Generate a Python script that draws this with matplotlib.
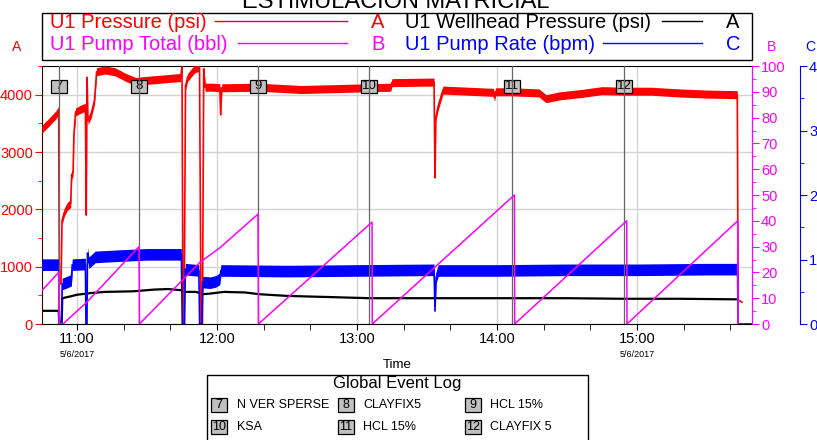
import matplotlib.pyplot as plt
from matplotlib.lines import Line2D
from matplotlib.patches import Rectangle
from matplotlib.ticker import MultipleLocator, FixedLocator
import matplotlib.transforms as mtrans
import numpy as np

plt.rcParams['font.family'] = ['Liberation Sans', 'DejaVu Sans']

# time in decimal hours (5/6/2017)
press_t = [10.75, 10.80, 10.85, 10.869, 10.874, 10.886, 10.893, 10.91, 10.93, 10.955,
           10.962, 10.972, 10.978, 10.99, 11.03, 11.060, 11.066, 11.072, 11.078, 11.10,
           11.125, 11.14, 11.20, 11.27, 11.35, 11.42, 11.50, 11.60, 11.74, 11.75,
           11.757, 11.765, 11.775, 11.79, 11.84, 11.875, 11.886, 11.896, 11.905, 11.915,
           11.97, 12.02, 12.026, 12.034, 12.3, 12.6, 13.24, 13.25, 13.55, 13.557,
           13.563, 13.58, 13.614, 13.975, 13.982, 13.99, 14.10, 14.30, 14.35, 14.45,
           14.60, 14.75, 14.9, 15.10, 15.30, 15.50, 15.716, 15.722, 15.75]
press_v = [3400, 3520, 3650, 3730, 700, 700, 1800, 1950, 2050, 2100,
           2600, 2650, 3300, 3700, 3750, 3780, 1900, 4300, 3550, 3650,
           3900, 4400, 4430, 4400, 4300, 4230, 4250, 4270, 4300, 4480,
           0, 0, 4150, 4300, 4450, 4480, 0, 0, 4450, 4130,
           4130, 4120, 3650, 4120, 4130, 4090, 4130, 4210, 4220, 2550,
           3600, 3800, 4080, 4040, 3950, 4050, 4050, 4030, 3930, 3980,
           4020, 4070, 4060, 4060, 4030, 4010, 4000, 420, 380]

whp_t = [10.75, 10.869, 10.874, 10.89, 10.895, 10.95, 11.0, 11.1, 11.2, 11.4, 11.55,
         11.65, 11.74, 11.77, 11.85, 11.9, 11.95, 12.05, 12.2, 12.3, 12.5, 12.8, 13.09,
         13.5, 14.5, 14.9, 15.3, 15.72]
whp_v = [230, 230, 0, 0, 450, 480, 510, 540, 560, 570, 600,
         610, 590, 560, 560, 520, 530, 560, 550, 520, 490, 470, 450,
         450, 450, 440, 440, 430]

total_t = [10.75, 10.869, 10.872, 10.90, 10.95, 11.0, 11.071, 11.443, 11.446, 11.88,
           12.02, 12.293, 12.296, 13.107, 13.109, 14.124, 14.126, 14.926, 14.928,
           15.719, 15.721]
total_v = [13, 20, 0, 0, 2.5, 5, 8.5, 30, 0, 24,
           29.5, 42.6, 0, 39.5, 0, 50, 0, 40, 0,
           40, 0]

rate_t = [10.75, 10.869, 10.873, 10.89, 10.894, 10.93, 10.96, 10.966, 11.06, 11.064,
          11.071, 11.075, 11.085, 11.13, 11.30, 11.50, 11.745, 11.752, 11.768, 11.774,
          11.87, 11.876, 11.893, 11.898, 11.95, 11.99, 12.02, 12.028, 12.5, 13.0,
          13.55, 13.557, 13.565, 13.58, 14.0, 14.5, 15.0, 15.5, 15.718, 15.721, 15.821]
rate_v = [0.92, 0.92, 0, 0, 0.62, 0.65, 0.68, 0.92, 0.93, 0,
          0, 1.1, 0.95, 1.04, 1.06, 1.08, 1.08, 0, 0, 0.85,
          0.83, 0, 0, 0.65, 0.64, 0.66, 0.70, 0.83, 0.82, 0.83,
          0.84, 0.2, 0.72, 0.83, 0.83, 0.84, 0.84, 0.85, 0.85, 0, 0]

event_ids = [7, 8, 9, 10, 11, 12]
event_t = [10.871, 11.443, 12.293, 13.086, 14.107, 14.907]
event_names = ['N VER SPERSE', 'CLAYFIX5', 'HCL 15%', 'KSA', 'HCL 15%', 'CLAYFIX 5']

hour_ticks = [11, 12, 13, 14, 15]
hour_labels = ['11:00', '12:00', '13:00', '14:00', '15:00']

RED = '#ff0000'
MAG = '#ff00ff'
BLUE = '#0000ff'

W, H = 817, 440
fig = plt.figure(figsize=(W / 100, H / 100), dpi=100)
ax = fig.add_axes([42 / W, 116 / H, 710 / W, 258 / H])
ax_b = ax.twinx()
ax_c = ax.twinx()
ax.set_zorder(1)
ax_c.set_zorder(2)
ax_b.set_zorder(3)
ax_b.patch.set_visible(False)
ax_c.patch.set_visible(False)

# --- A axis: pressures
ax.set_xlim(10.75, 15.821)
ax.set_ylim(0, 4500)
ax.grid(True, which='major', color='#d4d4d4', lw=1)
ax.set_axisbelow(True)

pt = np.array(press_t)
pv = np.array(press_v, dtype=float)
spread = np.where(pv > 1000, 70, 0)
ax.fill_between(pt, pv - spread, pv + spread, color=RED, lw=0, zorder=3)
ax.plot(pt, pv, color=RED, lw=1.2, zorder=3)
ax.plot(whp_t, whp_v, color='black', lw=1.6, zorder=2)

ax.set_yticks([0, 1000, 2000, 3000, 4000])
ax.yaxis.set_minor_locator(MultipleLocator(500))
ax.tick_params(axis='y', which='both', colors=RED, labelsize=10.5, direction='out', pad=1.5)
ax.tick_params(axis='y', which='major', length=5)
ax.tick_params(axis='y', which='minor', length=3)
ax.set_xticks(hour_ticks)
ax.set_xticklabels(hour_labels)
ax.xaxis.set_minor_locator(FixedLocator([h + m for h in range(10, 16) for m in (1 / 3, 2 / 3)]))
ax.tick_params(axis='x', which='both', labelsize=10.5, length=4, color='black', pad=2)
ax.spines['left'].set_color('#400000')

blend = mtrans.blended_transform_factory(ax.transData, ax.transAxes)
for hh in (11, 15):
    ax.text(hh, -0.118, '5/6/2017', transform=blend, ha='center', va='center', fontsize=6.5)
ax.text(0.5, -0.16, 'Time', transform=ax.transAxes, ha='center', va='center', fontsize=9.5)

# event boxes
for eid, et in zip(event_ids, event_t):
    ax.add_patch(Rectangle((et - 0.057, 0.897), 0.114, 0.05, transform=blend,
                           fc='#c0c0c0', ec='black', lw=0.9, zorder=6))
    ax.text(et, 0.922, str(eid), transform=blend, ha='center', va='center',
            fontsize=9.5, zorder=7)

# --- C axis: pump rate
ax_c.set_ylim(0, 4)
rt = np.array(rate_t)
rv = np.array(rate_v)
rs = np.where(rv > 0.3, 0.09, 0)
ax_c.fill_between(rt, rv - rs, rv + rs, color=BLUE, lw=0, zorder=2)
ax_c.plot(rt, rv, color=BLUE, lw=1.2, zorder=2)
for et in event_t:
    ax_c.axvline(et, color='#666666', lw=0.9, zorder=3)
ax_c.spines['right'].set_position(('outward', 48 * 0.72))
ax_c.spines['right'].set_color(BLUE)
ax_c.set_yticks([0, 1, 2, 3, 4])
ax_c.yaxis.set_minor_locator(MultipleLocator(0.5))
ax_c.tick_params(axis='y', which='both', colors=BLUE, labelsize=10.5, pad=1.5)
ax_c.tick_params(axis='y', which='major', length=5)
ax_c.tick_params(axis='y', which='minor', length=3)
for s in ('left', 'top', 'bottom'):
    ax_c.spines[s].set_visible(False)

# --- B axis: pump total
ax_b.set_ylim(0, 100)
ax_b.plot(total_t, total_v, color=MAG, lw=1.1, zorder=4)
ax_b.spines['right'].set_color(MAG)
ax_b.set_yticks(np.arange(0, 101, 10))
ax_b.yaxis.set_minor_locator(MultipleLocator(5))
ax_b.tick_params(axis='y', which='both', colors=MAG, labelsize=10.5, pad=1.5)
ax_b.tick_params(axis='y', which='major', length=5)
ax_b.tick_params(axis='y', which='minor', length=3)
for s in ('left', 'top', 'bottom'):
    ax_b.spines[s].set_visible(False)

# axis letters
fig.text(17 / W, 1 - 47 / H, 'A', color=RED, ha='center', va='center', fontsize=10)
fig.text(772 / W, 1 - 47 / H, 'B', color=MAG, ha='center', va='center', fontsize=10)
fig.text(810 / W, 1 - 47 / H, 'C', color=BLUE, ha='center', va='center', fontsize=10)

# title (cut at top as in the source)
fig.text(396 / W, 1 - 7.5 / H, 'ESTIMULACION MATRICIAL', ha='center', va='baseline', fontsize=17)

# legend box
fig.patches.append(Rectangle((42 / W, 1 - 60 / H), 710 / W, 47 / H, transform=fig.transFigure,
                             fill=False, ec='black', lw=1))
legend_rows = [
    ('U1 Pressure (psi)', RED, 50, 215, 347, 'A', 378, 22),
    ('U1 Pump Total (bbl)', MAG, 50, 238, 347, 'B', 378, 44),
    ('U1 Wellhead Pressure (psi)', 'black', 405, 662, 702, 'A', 733, 22),
    ('U1 Pump Rate (bpm)', BLUE, 405, 603, 702, 'C', 733, 44),
]
for label, col, x0, l0, l1, letter, xl, yy in legend_rows:
    fig.text(x0 / W, 1 - yy / H, label, color=col, ha='left', va='center', fontsize=14.5)
    fig.lines.append(Line2D([l0 / W, l1 / W], [1 - (yy - 1) / H] * 2, color=col, lw=1,
                            transform=fig.transFigure))
    fig.text(xl / W, 1 - yy / H, letter, color=col, ha='center', va='center', fontsize=14.5)

# global event log
fig.patches.append(Rectangle((207 / W, -0.05), 381 / W, (65 / H) + 0.05, transform=fig.transFigure,
                             fill=False, ec='black', lw=1))
fig.text(397 / W, 1 - 383 / H, 'Global Event Log', ha='center', va='center', fontsize=12)
box_x = [219, 346, 473]
text_x = [237, 363, 490]
row_y = [405, 427]
for i, (eid, name) in enumerate(zip(event_ids, event_names)):
    bx = box_x[i % 3]
    by = row_y[i // 3]
    fig.patches.append(Rectangle(((bx - 8) / W, 1 - (by + 7) / H), 16 / W, 14 / H,
                                 transform=fig.transFigure, fc='#c0c0c0', ec='black', lw=0.9))
    fig.text(bx / W, 1 - by / H, str(eid), ha='center', va='center', fontsize=9)
    fig.text(text_x[i % 3] / W, 1 - by / H, name, ha='left', va='center', fontsize=9)

fig.savefig('out.png', dpi=100)
